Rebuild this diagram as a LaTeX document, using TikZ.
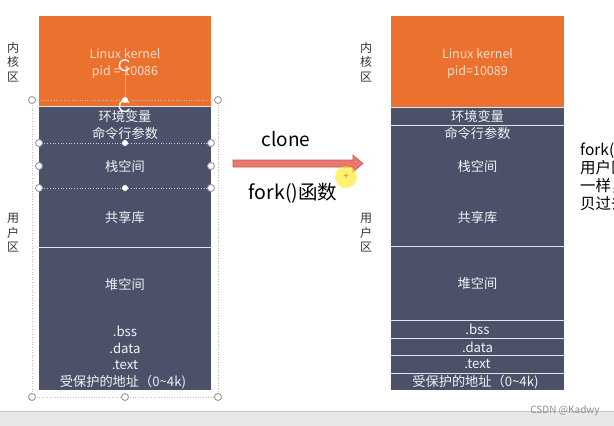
\documentclass[tikz,border=0pt]{standalone}
\usepackage{fontspec}
\setmainfont{Noto Sans CJK SC}
\definecolor{kern}{HTML}{EB712F}
\definecolor{usr}{HTML}{4B5169}
\definecolor{kerntxt}{HTML}{F9DCC8}
\definecolor{usrtxt}{HTML}{F2F2F2}
\definecolor{arrowfill}{HTML}{E9766F}
\definecolor{arrowline}{HTML}{C95C56}
\definecolor{handle}{HTML}{9A9A9A}
\begin{document}
\begin{tikzpicture}[x=1pt,y=-1pt,
  blk/.style={inner sep=0pt, outer sep=0pt, anchor=north west},
  ktxt/.style={text=kerntxt, font=\fontsize{12.5}{17}\selectfont, align=center, inner sep=0pt},
  utxt/.style={text=usrtxt, font=\fontsize{13.2}{14}\selectfont, inner sep=0pt},
  side/.style={text=black!80, font=\fontsize{12}{14.5}\selectfont, align=center, inner sep=0pt},
  sep/.style={draw=white!85!usr, line width=0.9pt},
  hdl/.style={circle, draw=handle, fill=white, line width=0.9pt, minimum size=7pt, inner sep=0pt},
  selbox/.style={draw=black!25, dotted, line width=0.6pt}]
\useasboundingbox (0,0) rectangle (614,426);
\fill[white] (0,0) rectangle (614,426);
\begin{scope}
\clip (0,0) rectangle (614,426);

% ---------------- left column ----------------
\node[blk, fill=kern, minimum width=172pt, minimum height=90pt] (lk) at (39,16) {};
\node[blk, fill=usr, minimum width=172pt, minimum height=284pt] (lu) at (39,106) {};
\draw[sep] (39,106) -- (211,106);
\draw[sep] (39,247) -- (211,247);
\node[ktxt] (lkt) at (125,63.5) {Linux kernel\\pid = 10086};
\node[utxt] (l1) at (125,116) {环境变量};
\node[utxt] (l2) at (125,133) {命令行参数};
\node[utxt] (l3) at (125,166) {栈空间};
\node[utxt] (l4) at (125,217) {共享库};
\node[utxt] (l5) at (125,284) {堆空间};
\node[utxt] (l6) at (125,331) {.bss};
\node[utxt] (l7) at (125,348) {.data};
\node[utxt] (l8) at (125,365) {.text};
\node[utxt] (l9) at (123,382) {受保护的地址（0\char"007E 4k)};

% selection frames and handles (left column)
\draw[selbox] (32,100) rectangle (218,397);
\draw[draw=white!70!usr, dotted, line width=0.7pt] (39,143) -- (211,143) (39,188) -- (211,188);
\draw[draw=white!60!usr, line width=0.5pt] (125,71) -- (125,100);
\foreach \p in {(32,100),(218,100),(32,397),(125,397),(218,397),
                (39,143),(211,143),(39,166),(211,166),(39,188),(211,188)}
  \node[hdl] at \p {};
\foreach \p in {(125,100),(125,143),(125,188)}
  \node[circle, fill=white, minimum size=6pt, inner sep=0pt] at \p {};
\draw[white, line width=1.4pt] (129.5,68) arc (30:320:5.5);
\draw[white, line width=1.4pt] (129.5,109) arc (30:320:5.5);

% ---------------- right column ----------------
\node[blk, fill=kern, minimum width=173pt, minimum height=91pt] (rk) at (391,16) {};
\node[blk, fill=usr, minimum width=173pt, minimum height=283pt] (ru) at (391,107) {};
\foreach \yy in {107,125,246,320,338,355,373}
  \draw[sep] (391,\yy) -- (564,\yy);
\node[ktxt] (rkt) at (477.5,63.5) {Linux kernel\\pid=10089};
\node[utxt] (r1) at (477.5,116) {环境变量};
\node[utxt] (r2) at (477.5,133) {命令行参数};
\node[utxt] (r3) at (477.5,166) {栈空间};
\node[utxt] (r4) at (477.5,217) {共享库};
\node[utxt] (r5) at (477.5,283) {堆空间};
\node[utxt] (r6) at (477.5,329) {.bss};
\node[utxt] (r7) at (477.5,347) {.data};
\node[utxt] (r8) at (477.5,364) {.text};
\node[utxt] (r9) at (475.5,382) {受保护的地址（0\char"007E 4k)};

% side labels
\node[side] (lkern) at (13,62) {内\\核\\区};
\node[side] (luser) at (13,233) {用\\户\\区};
\node[side] (rkern) at (366,62) {内\\核\\区};
\node[side] (ruser) at (366,233) {用\\户\\区};

% ---------------- arrow ----------------
\draw[fill=arrowfill, draw=arrowline, line width=0.6pt, line join=miter]
  (233,160) -- (353,160) -- (353,155) -- (363,163.5) -- (353,172) -- (353,167) -- (233,167) -- cycle;
\node[font=\fontsize{19}{22}\selectfont, inner sep=0pt] (clone) at (286,139) {clone};
\node[font=\fontsize{19.5}{22}\selectfont, inner sep=0pt] (fork) at (293,193) {fork()函数};
\fill[yellow!90!orange, opacity=0.55] (346,177) circle (11);
\node[text=orange!80!red, font=\fontsize{9}{9}\selectfont, inner sep=0pt] (plus) at (346,177) {+};

% ---------------- right text (cut at the picture's edge, as in the reference) ----------------
\node[anchor=north west, align=left, inner sep=0pt, font=\fontsize{15.5}{18}\selectfont] (note) at (580,143)
  {fork()\\用户区\\一样，\\贝过去};

% ---------------- bottom bar ----------------
\fill[black!9] (0,411) rectangle (614,426);
\draw[black!22, line width=0.8pt] (0,411) -- (614,411);
\node[text=black!45, font=\fontsize{10}{11}\selectfont, inner sep=0pt] (csdn) at (565,411) {CSDN @Kadwy};
\end{scope}
\end{tikzpicture}
\end{document}
